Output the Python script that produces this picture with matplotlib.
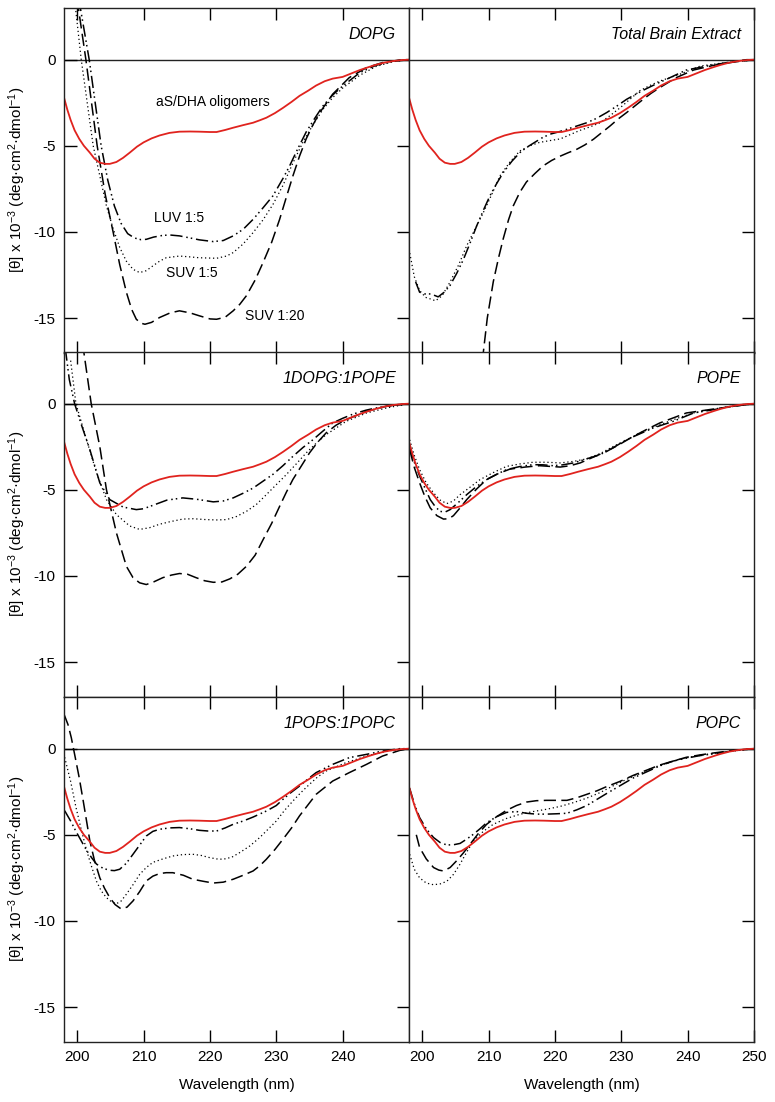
import numpy as np
import matplotlib
matplotlib.use('Agg')
import matplotlib.pyplot as plt

plt.rcParams['font.family'] = ['Liberation Sans', 'DejaVu Sans']
plt.rcParams['mathtext.fontset'] = 'custom'
plt.rcParams['mathtext.rm'] = 'Liberation Sans'
plt.rcParams['mathtext.it'] = 'Liberation Sans:italic'
plt.rcParams['axes.unicode_minus'] = False

# Data (wavelength in nm, ellipticity x 10^-3)

## aS/DHA oligomers alone (same trace in every panel)
red_wl = [198.0, 198.5, 199.0, 199.6, 200.3, 201.0, 201.9, 202.6, 203.4, 204.2, 204.9, 205.9, 206.9,
          207.9, 209.0, 210.0, 211.2, 212.4, 213.9, 215.4, 217.0, 218.4, 220.0, 221.0, 222.3, 223.5,
          225.0, 226.5, 227.5, 228.5, 229.8, 231.0, 232.3, 233.5, 234.8, 236.0, 237.3, 238.5, 240.0,
          241.3, 242.6, 244.0, 245.0, 246.3, 247.6, 249.0, 250.0]
red = [-2.2, -2.9, -3.5, -4.1, -4.6, -5.0, -5.4, -5.75, -5.98, -6.05, -6.05, -5.94, -5.7,
       -5.4, -5.05, -4.8, -4.57, -4.4, -4.25, -4.18, -4.17, -4.18, -4.2, -4.2, -4.08, -3.95,
       -3.8, -3.66, -3.52, -3.37, -3.1, -2.8, -2.45, -2.1, -1.8, -1.5, -1.25, -1.1, -1.0,
       -0.8, -0.6, -0.42, -0.3, -0.17, -0.08, -0.02, 0.0]

## DOPG
dopg_luv_wl = [199.8, 201.8, 203.6, 204.6, 205.6, 206.6, 207.6, 208.6, 209.6, 210.4, 211.5, 212.9, 214.0,
               215.4, 217.0, 218.4, 220.5, 222.0, 223.5, 225.0, 226.5, 228.0, 229.5, 231.0, 232.0, 233.2,
               234.5, 235.8, 237.0, 238.5, 240.0, 242.6, 245.0, 247.5, 250.0]
dopg_luv = [4.5, 0.0, -5.0, -7.0, -8.5, -9.5, -10.1, -10.35, -10.45, -10.43, -10.3, -10.2, -10.18,
            -10.23, -10.35, -10.46, -10.56, -10.5, -10.23, -9.85, -9.27, -8.6, -7.9, -6.9, -6.17, -5.2,
            -4.2, -3.4, -2.7, -2.05, -1.53, -0.75, -0.33, -0.1, 0.0]
dopg_suv5_wl = [199.3, 200.6, 202.4, 203.4, 204.4, 205.4, 206.4, 207.4, 208.4, 209.4, 210.4, 211.4, 212.4,
                213.4, 215.4, 217.0, 218.4, 221.0, 222.5, 223.5, 225.0, 226.5, 228.0, 229.5, 231.0, 232.5,
                234.0, 235.5, 237.0, 238.5, 240.0, 242.6, 245.0, 247.5, 250.0]
dopg_suv5 = [4.5, 0.0, -5.0, -6.75, -8.5, -9.8, -10.9, -11.7, -12.17, -12.36, -12.25, -11.97, -11.7,
             -11.5, -11.4, -11.45, -11.5, -11.53, -11.4, -11.2, -10.7, -10.04, -9.3, -8.4, -7.3, -6.0,
             -4.8, -3.8, -2.9, -2.2, -1.65, -0.9, -0.4, -0.12, 0.0]
dopg_suv20_wl = [199.6, 201.3, 203.0, 204.2, 205.4, 206.4, 207.4, 208.2, 208.9, 209.6, 210.2, 211.2, 212.4,
                 214.0, 215.4, 217.0, 218.4, 220.0, 221.0, 222.3, 223.5, 224.5, 225.5, 226.8, 228.0, 229.3,
                 230.5, 231.5, 232.5, 233.5, 234.5, 235.5, 236.5, 238.5, 241.0, 243.6, 246.0, 249.0, 250.0]
dopg_suv20 = [4.5, 0.0, -5.0, -7.8, -10.0, -11.9, -13.5, -14.5, -15.07, -15.3, -15.36, -15.25, -14.97,
              -14.7, -14.58, -14.7, -14.87, -15.05, -15.07, -14.95, -14.58, -14.2, -13.7, -12.8, -11.78, -10.6,
              -9.27, -8.0, -6.75, -5.6, -4.6, -3.8, -3.1, -2.0, -1.04, -0.46, -0.17, 0.0, 0.0]

## 1DOPG:1POPE
dopgpope_luv_wl = [198.2, 198.8, 199.6, 200.6, 201.9, 203.4, 204.9, 206.9, 208.9, 210.0, 211.4, 213.5, 215.9,
                   218.0, 220.5, 222.0, 223.5, 225.0, 226.5, 228.0, 229.5, 231.0, 232.5, 234.0, 235.5, 237.0,
                   238.5, 240.0, 241.6, 243.5, 245.0, 247.5, 250.0]
dopgpope_luv = [3.2, 1.4, 0.0, -1.2, -2.67, -4.6, -5.57, -6.0, -6.15, -6.1, -5.9, -5.6, -5.47,
                -5.55, -5.7, -5.65, -5.47, -5.2, -4.9, -4.5, -4.1, -3.6, -3.06, -2.55, -2.1, -1.6,
                -1.12, -0.85, -0.6, -0.38, -0.25, -0.1, 0.0]
dopgpope_suv5_wl = [199.0, 199.8, 201.4, 202.9, 204.4, 205.9, 207.9, 209.4, 210.9, 212.4, 214.0, 215.9, 217.5,
                    219.4, 221.0, 222.5, 224.0, 225.5, 227.0, 228.5, 230.0, 231.5, 233.0, 234.5, 236.0, 237.5,
                    240.5, 243.6, 246.6, 250.0]
dopgpope_suv5 = [2.5, 0.0, -2.1, -4.0, -5.57, -6.44, -7.1, -7.3, -7.2, -7.0, -6.85, -6.7, -6.68,
                 -6.73, -6.75, -6.73, -6.55, -6.25, -5.85, -5.28, -4.7, -4.12, -3.5, -2.86, -2.3, -1.8,
                 -1.03, -0.54, -0.25, 0.0]
dopgpope_suv20_wl = [200.8, 202.1, 203.4, 204.4, 205.9, 207.4, 208.4, 209.4, 210.4, 211.5, 212.9, 214.2, 215.4,
                     216.6, 217.9, 219.2, 220.5, 221.8, 223.0, 224.2, 225.5, 226.8, 228.0, 229.3, 230.5, 231.5,
                     232.5, 233.8, 235.0, 236.2, 237.5, 239.0, 240.5, 243.6, 246.6, 250.0]
dopgpope_suv20 = [3.5, 0.0, -2.5, -5.0, -7.5, -9.44, -10.1, -10.4, -10.5, -10.35, -10.1, -9.95, -9.86,
                  -9.9, -10.1, -10.28, -10.37, -10.35, -10.17, -9.9, -9.44, -8.8, -7.9, -6.95, -5.96, -5.15,
                  -4.4, -3.6, -2.86, -2.25, -1.7, -1.25, -0.93, -0.44, -0.15, 0.0]

## 1POPS:1POPC
popspopc_luv_wl = [198.1, 199.0, 199.8, 200.6, 201.4, 202.2, 202.9, 203.9, 204.9, 205.6, 206.4, 207.4, 208.4,
                   209.4, 210.4, 211.4, 212.4, 213.9, 215.4, 217.0, 218.4, 219.7, 221.0, 222.3, 223.5, 225.0,
                   226.5, 228.5, 230.0, 231.0, 232.2, 233.5, 234.8, 236.0, 238.5, 241.0, 243.6, 246.0, 248.6, 250.0]
popspopc_luv = [-3.6, -4.2, -4.8, -5.35, -5.9, -6.35, -6.7, -6.95, -7.06, -7.08, -7.0, -6.65, -6.13,
                -5.6, -5.07, -4.8, -4.68, -4.6, -4.58, -4.65, -4.74, -4.78, -4.78, -4.6, -4.39, -4.2,
                -3.97, -3.62, -3.3, -2.94, -2.55, -2.17, -1.75, -1.39, -0.91, -0.52, -0.33, -0.14, 0.0, 0.0]
popspopc_suv5_wl = [198.1, 199.0, 199.8, 200.6, 201.4, 202.2, 202.9, 203.6, 204.4, 205.2, 205.9, 206.6, 207.4,
                    208.4, 209.4, 210.4, 211.4, 212.9, 214.4, 215.9, 217.4, 218.7, 219.9, 221.0, 222.0, 223.3,
                    224.5, 226.0, 227.5, 228.7, 230.0, 231.2, 232.5, 233.7, 235.0, 236.2, 237.5, 240.5, 243.6,
                    246.6, 249.6, 250.0]
popspopc_suv5 = [-0.5, -1.9, -3.4, -4.7, -5.9, -6.9, -7.7, -8.25, -8.65, -8.9, -9.0, -8.85, -8.45,
                 -7.9, -7.3, -6.9, -6.6, -6.4, -6.23, -6.15, -6.13, -6.2, -6.32, -6.4, -6.42, -6.3,
                 -6.03, -5.65, -5.16, -4.7, -4.2, -3.6, -3.04, -2.55, -2.07, -1.65, -1.3, -0.81, -0.43,
                 -0.14, 0.0, 0.0]
popspopc_suv20_wl = [198.0, 198.6, 199.1, 199.7, 200.3, 200.9, 201.4, 201.9, 202.6, 203.4, 204.1, 204.9, 205.7,
                     206.6, 207.5, 208.4, 209.4, 210.4, 211.4, 212.4, 213.4, 214.4, 216.0, 217.4, 219.0, 220.5,
                     222.0, 223.5, 225.0, 226.5, 227.5, 228.5, 229.8, 231.0, 232.3, 233.5, 234.8, 236.0, 238.5,
                     241.0, 243.6, 246.0, 248.6, 250.0]
popspopc_suv20 = [2.0, 1.4, 0.64, -0.52, -1.7, -3.04, -4.2, -5.36, -6.5, -7.5, -8.1, -8.65, -9.05,
                  -9.3, -9.2, -8.84, -8.3, -7.68, -7.4, -7.25, -7.2, -7.2, -7.35, -7.58, -7.7, -7.8,
                  -7.75, -7.58, -7.35, -7.1, -6.8, -6.42, -5.85, -5.26, -4.6, -3.9, -3.25, -2.65, -1.88,
                  -1.39, -0.91, -0.43, -0.1, 0.0]

## Total Brain Extract
tbe_luv_wl = [199.0, 199.6, 200.4, 201.3, 202.4, 203.3, 204.2, 205.2, 206.2, 207.2, 208.2, 209.2, 210.2,
              211.2, 212.2, 213.5, 214.7, 215.7, 216.7, 218.0, 219.2, 220.5, 221.8, 223.3, 224.8, 226.3,
              227.8, 229.3, 230.8, 232.3, 233.8, 235.3, 236.8, 238.3, 239.8, 242.9, 245.9, 248.9, 250.0]
tbe_luv = [-12.9, -13.5, -13.6, -13.6, -13.77, -13.5, -13.1, -12.4, -11.6, -10.65, -9.65, -8.75, -7.9,
           -7.2, -6.56, -5.9, -5.4, -5.1, -4.86, -4.55, -4.33, -4.2, -4.04, -3.85, -3.66, -3.4,
           -3.07, -2.7, -2.3, -1.98, -1.68, -1.4, -1.14, -0.87, -0.6, -0.37, -0.17, 0.0, 0.0]
tbe_suv5_wl = [198.0, 198.8, 199.6, 200.5, 201.3, 202.0, 203.0, 204.2, 205.5, 206.7, 208.0, 209.2, 210.5,
               211.7, 213.2, 214.7, 216.2, 217.7, 219.2, 220.8, 222.3, 223.8, 225.3, 226.8, 228.3, 229.8,
               231.3, 232.8, 234.3, 235.8, 238.8, 241.9, 244.9, 248.4, 250.0]
tbe_suv5 = [-11.0, -12.6, -13.4, -13.8, -13.9, -14.0, -13.7, -12.9, -11.9, -10.8, -9.8, -8.88, -7.8,
            -6.75, -5.95, -5.3, -5.0, -4.8, -4.7, -4.6, -4.35, -4.1, -3.9, -3.66, -3.25, -2.8,
            -2.3, -1.8, -1.5, -1.24, -0.85, -0.37, -0.21, -0.08, 0.0]
tbe_suv20_wl = [208.8, 209.2, 209.8, 210.7, 211.5, 212.2, 213.0, 213.7, 214.7, 215.7, 217.0, 218.2, 219.5,
                220.8, 222.0, 223.3, 224.5, 225.8, 227.0, 228.3, 229.5, 230.8, 232.0, 233.3, 234.5, 235.8,
                238.3, 240.9, 243.9, 246.9, 250.0]
tbe_suv20 = [-18.5, -17.0, -15.0, -12.9, -11.5, -10.4, -9.3, -8.5, -7.7, -7.1, -6.6, -6.17, -5.85,
             -5.6, -5.4, -5.2, -4.95, -4.62, -4.25, -3.85, -3.45, -3.07, -2.7, -2.3, -1.95, -1.62,
             -1.04, -0.6, -0.33, -0.14, 0.0]

## POPE
pope_luv_wl = [198.1, 198.8, 199.6, 200.4, 201.2, 202.0, 202.7, 203.4, 204.2, 205.4, 206.7, 208.2, 209.7,
               211.2, 212.7, 214.7, 216.7, 218.2, 219.7, 221.2, 222.8, 224.8, 226.8, 228.8, 230.8, 232.8,
               234.8, 237.8, 240.9, 243.9, 246.9, 250.0]
pope_luv = [-2.5, -3.4, -4.2, -4.9, -5.57, -6.0, -6.25, -6.3, -6.15, -5.75, -5.28, -4.8, -4.41,
            -4.1, -3.83, -3.65, -3.54, -3.55, -3.6, -3.55, -3.44, -3.2, -2.96, -2.55, -2.09, -1.75,
            -1.41, -1.03, -0.54, -0.35, -0.15, 0.0]
pope_suv5_wl = [198.1, 198.8, 199.6, 200.6, 201.7, 202.7, 203.7, 204.7, 205.7, 207.2, 208.7, 210.7, 212.7,
                214.7, 216.7, 218.7, 220.8, 222.8, 224.8, 226.8, 228.8, 230.8, 232.8, 234.8, 236.8, 238.8,
                240.9, 242.9, 244.9, 247.5, 250.0]
pope_suv5 = [-2.1, -3.0, -3.83, -4.6, -5.18, -5.6, -5.8, -5.65, -5.28, -4.85, -4.41, -4.0, -3.64,
             -3.5, -3.4, -3.4, -3.44, -3.35, -3.2, -2.9, -2.48, -2.1, -1.7, -1.38, -1.08, -0.8,
             -0.54, -0.38, -0.25, -0.1, 0.0]
pope_suv20_wl = [198.1, 198.8, 199.6, 200.4, 201.2, 202.2, 203.2, 204.0, 204.7, 205.7, 206.7, 208.2, 209.7,
                 211.5, 213.2, 215.5, 217.7, 219.2, 220.8, 222.3, 223.8, 225.8, 227.8, 229.8, 231.8, 233.8,
                 235.8, 239.8, 243.9, 246.9, 250.0]
pope_suv20 = [-2.67, -3.7, -4.6, -5.4, -6.05, -6.5, -6.7, -6.68, -6.5, -6.05, -5.57, -4.95, -4.4,
              -4.05, -3.8, -3.68, -3.6, -3.64, -3.68, -3.6, -3.44, -3.1, -2.77, -2.35, -1.9, -1.5,
              -1.12, -0.54, -0.31, -0.15, 0.0]

## POPC
popc_luv_wl = [198.1, 198.8, 199.6, 200.6, 201.7, 202.7, 203.7, 204.7, 205.7, 206.7, 207.7, 208.7, 209.7,
               211.2, 212.7, 214.2, 215.7, 217.2, 218.7, 220.2, 221.8, 223.3, 224.8, 226.3, 227.8, 229.8,
               231.8, 233.8, 235.8, 237.8, 239.8, 241.9, 243.9, 246.9, 250.0]
popc_luv = [-2.3, -3.2, -4.0, -4.65, -5.16, -5.45, -5.59, -5.58, -5.5, -5.25, -4.97, -4.65, -4.3,
            -3.95, -3.7, -3.65, -3.75, -3.8, -3.8, -3.78, -3.75, -3.55, -3.3, -2.95, -2.6, -2.15,
            -1.7, -1.35, -1.0, -0.72, -0.55, -0.4, -0.3, -0.12, 0.0]
popc_suv5_wl = [198.1, 198.8, 199.6, 200.6, 201.7, 202.7, 203.7, 204.7, 205.7, 206.7, 207.7, 209.2, 210.7,
                212.7, 214.7, 216.7, 218.7, 220.8, 222.8, 224.8, 226.8, 228.8, 230.8, 232.8, 234.8, 236.8,
                238.8, 240.9, 242.9, 244.9, 246.9, 250.0]
popc_suv5 = [-6.13, -7.0, -7.5, -7.8, -7.9, -7.85, -7.7, -7.3, -6.7, -6.0, -5.36, -4.8, -4.39,
             -4.05, -3.81, -3.65, -3.52, -3.35, -3.13, -2.87, -2.55, -2.15, -1.78, -1.45, -1.1, -0.85,
             -0.62, -0.45, -0.33, -0.22, -0.14, 0.0]
popc_suv20_wl = [199.1, 199.6, 200.6, 201.7, 202.5, 203.2, 204.2, 205.2, 206.2, 207.2, 208.4, 209.7, 211.2,
                 212.7, 214.2, 215.7, 217.2, 218.7, 220.2, 221.8, 223.3, 224.8, 226.3, 227.8, 229.8, 231.8,
                 233.8, 235.8, 237.8, 239.8, 241.9, 243.9, 246.9, 250.0]
popc_suv20 = [-5.0, -5.74, -6.4, -6.9, -7.05, -7.1, -6.9, -6.5, -6.05, -5.55, -4.95, -4.39, -3.95,
              -3.58, -3.3, -3.1, -3.02, -3.0, -3.0, -3.0, -2.85, -2.65, -2.45, -2.2, -1.9, -1.55,
              -1.25, -0.95, -0.72, -0.5, -0.36, -0.25, -0.1, 0.0]

panel_names = ['DOPG', 'Total Brain Extract', '1DOPG:1POPE', 'POPE', '1POPS:1POPC', 'POPC']
panel_data = [
    (dopg_luv_wl, dopg_luv, dopg_suv5_wl, dopg_suv5, dopg_suv20_wl, dopg_suv20),
    (tbe_luv_wl, tbe_luv, tbe_suv5_wl, tbe_suv5, tbe_suv20_wl, tbe_suv20),
    (dopgpope_luv_wl, dopgpope_luv, dopgpope_suv5_wl, dopgpope_suv5, dopgpope_suv20_wl, dopgpope_suv20),
    (pope_luv_wl, pope_luv, pope_suv5_wl, pope_suv5, pope_suv20_wl, pope_suv20),
    (popspopc_luv_wl, popspopc_luv, popspopc_suv5_wl, popspopc_suv5, popspopc_suv20_wl, popspopc_suv20),
    (popc_luv_wl, popc_luv, popc_suv5_wl, popc_suv5, popc_suv20_wl, popc_suv20),
]

# Figure
fig = plt.figure(figsize=(7.75, 11.02), dpi=100)
W, H = 775.0, 1102.0
colLeft = [64, 409]
colWidth = 345
rowTop = [8, 352, 697]
rowHeight = 344.5

redColor = '#e0231e'
luvStyle = dict(color='black', lw=1.1, linestyle=(0, (8, 2.5, 1, 2, 1, 2.5)))
suv5Style = dict(color='black', lw=0.9, linestyle=(0, (1, 2.2)))
suv20Style = dict(color='black', lw=1.1, linestyle=(0, (8, 3.5)))
ylabel = '[θ] x 10$^{-3}$ (deg·cm$^{2}$·dmol$^{-1}$)'

for index, name in enumerate(panel_names):
    row, col = divmod(index, 2)
    rect = [colLeft[col] / W, 1 - (rowTop[row] + rowHeight) / H, colWidth / W, rowHeight / H]
    ax = fig.add_axes(rect)
    luv_wl, luv, suv5_wl, suv5, suv20_wl, suv20 = panel_data[index]

    ax.axhline(0, color='#222222', lw=1.0, zorder=1)
    ax.plot(suv20_wl, suv20, **suv20Style)
    ax.plot(suv5_wl, suv5, **suv5Style)
    ax.plot(luv_wl, luv, **luvStyle)
    ax.plot(red_wl, red, color=redColor, lw=1.3)

    ax.set_xlim(198, 250)
    ax.set_ylim(-17, 3)
    for spine in ax.spines.values():
        spine.set_linewidth(1.0)
        spine.set_color('#222222')

    ## ticks
    ax.set_yticks([0, -5, -10, -15])
    if col == 0:
        ax.set_xticks([200, 210, 220, 230, 240])
        ax.tick_params(axis='y', direction='in', left=True, right=True, length=9, width=1,
                       labelsize=11, pad=6)
        ax.set_ylabel(ylabel, fontsize=11)
        ax.yaxis.set_label_coords(-0.103, 0.5)
    else:
        ax.set_xticks([200, 210, 220, 230, 240, 250])
        ax.tick_params(axis='y', direction='in', left=False, right=True, length=9, width=1,
                       labelleft=False)
    ax.tick_params(axis='x', direction='in', top=True, bottom=True, length=8.6, width=1,
                   labelsize=11, pad=6)
    if row < 2:
        ax.tick_params(axis='x', labelbottom=False)
    else:
        ax.set_xlabel('Wavelength (nm)', fontsize=11)
        ax.xaxis.set_label_coords(0.5, -0.105)

    ## panel title
    ax.text(0.962, 0.922, name, transform=ax.transAxes, ha='right', va='center',
            fontsize=11.5, style='italic')

    ## labels in the first panel
    if index == 0:
        ax.text(220.4, -2.48, 'aS/DHA oligomers', ha='center', va='center', fontsize=10)
        ax.text(215.4, -9.2, 'LUV 1:5', ha='center', va='center', fontsize=10)
        ax.text(217.2, -12.4, 'SUV 1:5', ha='center', va='center', fontsize=10)
        ax.text(229.8, -14.9, 'SUV 1:20', ha='center', va='center', fontsize=10)

plt.savefig('out.png', dpi=100)
